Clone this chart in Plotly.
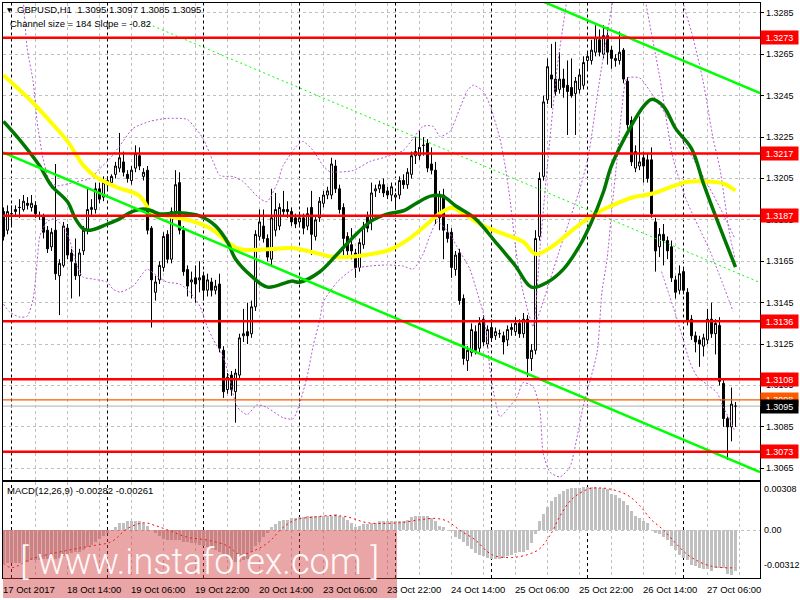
import plotly.graph_objects as go

FONT = "Liberation Sans, Arial, sans-serif"
FS = 9.5

# ---------------- price data (H1 bars, index 0 = 17 Oct 22:00) ----------------
opens = [1.3189,1.3180,1.3188,1.3189,1.3191,1.3190,1.3193,1.3191,1.3192,1.3187,
 1.3187,1.3180,1.3172,1.3180,1.3158,1.3163,1.3181,1.3169,1.3164,1.3158,
 1.3170,1.3180,1.3190,1.3190,1.3200,1.3196,1.3202,1.3203,1.3207,1.3210,
 1.3213,1.3207,1.3204,1.3210,1.3216,1.3206,1.3209,1.3181,1.3150,1.3156,
 1.3162,1.3178,1.3166,1.3189,1.3203,1.3180,1.3161,1.3155,1.3157,1.3156,
 1.3158,1.3151,1.3155,1.3151,1.3154,1.3122,1.3103,1.3110,1.3102,1.3110,
 1.3129,1.3131,1.3130,1.3143,1.3177,1.3182,1.3176,1.3166,1.3180,1.3182,
 1.3190,1.3190,1.3189,1.3186,1.3184,1.3186,1.3182,1.3191,1.3177,1.3186,
 1.3193,1.3197,1.3197,1.3211,1.3200,1.3191,1.3177,1.3173,1.3169,1.3162,
 1.3173,1.3187,1.3185,1.3199,1.3200,1.3202,1.3199,1.3197,1.3196,1.3197,
 1.3204,1.3202,1.3207,1.3216,1.3216,1.3221,1.3222,1.3212,1.3209,1.3186,
 1.3197,1.3179,1.3179,1.3161,1.3169,1.3147,1.3117,1.3121,1.3131,1.3123,
 1.3137,1.3125,1.3133,1.3129,1.3130,1.3129,1.3127,1.3132,1.3131,1.3135,
 1.3130,1.3137,1.3118,1.3122,1.3177,1.3206,1.3243,1.3255,1.3253,1.3248,
 1.3253,1.3250,1.3249,1.3246,1.3248,1.3250,1.3262,1.3262,1.3266,1.3272,
 1.3265,1.3274,1.3267,1.3262,1.3262,1.3267,1.3252,1.3233,1.3210,1.3211,
 1.3215,1.3214,1.3214,1.3184,1.3172,1.3178,1.3175,1.3172,1.3156,1.3151,
 1.3160,1.3150,1.3137,1.3129,1.3127,1.3124,1.3127,1.3137,1.3130,1.3134,
 1.3106,1.3089,1.3085,1.3095]
highs = [1.3191,1.3192,1.3192,1.3192,1.3195,1.3197,1.3196,1.3197,1.3194,1.3189,
 1.3188,1.3182,1.3181,1.3212,1.3166,1.3184,1.3183,1.3171,1.3176,1.3171,
 1.3182,1.3200,1.3195,1.3203,1.3203,1.3206,1.3206,1.3207,1.3213,1.3227,
 1.3218,1.3209,1.3211,1.3221,1.3220,1.3210,1.3211,1.3182,1.3158,1.3165,
 1.3179,1.3180,1.3191,1.3209,1.3208,1.3182,1.3163,1.3160,1.3163,1.3165,
 1.3160,1.3159,1.3157,1.3156,1.3159,1.3124,1.3111,1.3112,1.3113,1.3130,
 1.3142,1.3145,1.3146,1.3180,1.3190,1.3190,1.3178,1.3200,1.3198,1.3193,
 1.3199,1.3194,1.3191,1.3188,1.3189,1.3188,1.3191,1.3199,1.3187,1.3196,
 1.3199,1.3201,1.3215,1.3214,1.3202,1.3193,1.3179,1.3181,1.3171,1.3176,
 1.3184,1.3189,1.3203,1.3202,1.3204,1.3205,1.3201,1.3203,1.3198,1.3206,
 1.3207,1.3210,1.3218,1.3225,1.3228,1.3225,1.3224,1.3220,1.3213,1.3199,
 1.3200,1.3183,1.3181,1.3170,1.3171,1.3149,1.3124,1.3135,1.3134,1.3138,
 1.3139,1.3134,1.3137,1.3133,1.3132,1.3131,1.3134,1.3135,1.3138,1.3137,
 1.3140,1.3139,1.3125,1.3180,1.3208,1.3245,1.3263,1.3270,1.3271,1.3266,
 1.3258,1.3262,1.3263,1.3254,1.3258,1.3264,1.3266,1.3272,1.3279,1.3277,
 1.3279,1.3278,1.3269,1.3265,1.3276,1.3268,1.3254,1.3235,1.3221,1.3235,
 1.3218,1.3217,1.3220,1.3186,1.3181,1.3183,1.3177,1.3175,1.3158,1.3163,
 1.3162,1.3152,1.3139,1.3131,1.3129,1.3130,1.3142,1.3145,1.3137,1.3138,
 1.3108,1.3090,1.3104,1.3097]
lows = [1.3175,1.3178,1.3182,1.3187,1.3186,1.3189,1.3190,1.3189,1.3186,1.3185,
 1.3176,1.3169,1.3170,1.3156,1.3139,1.3162,1.3166,1.3147,1.3156,1.3148,
 1.3168,1.3178,1.3187,1.3188,1.3193,1.3194,1.3200,1.3201,1.3205,1.3208,
 1.3206,1.3203,1.3202,1.3208,1.3209,1.3204,1.3178,1.3133,1.3146,1.3154,
 1.3160,1.3164,1.3164,1.3187,1.3178,1.3158,1.3148,1.3147,1.3145,1.3150,
 1.3146,1.3148,1.3148,1.3149,1.3121,1.3099,1.3101,1.3100,1.3087,1.3108,
 1.3126,1.3125,1.3128,1.3141,1.3175,1.3174,1.3165,1.3163,1.3177,1.3180,
 1.3187,1.3186,1.3182,1.3181,1.3182,1.3178,1.3180,1.3168,1.3175,1.3184,
 1.3191,1.3195,1.3195,1.3198,1.3188,1.3168,1.3168,1.3166,1.3157,1.3160,
 1.3171,1.3179,1.3180,1.3196,1.3198,1.3196,1.3195,1.3194,1.3190,1.3195,
 1.3200,1.3200,1.3205,1.3212,1.3214,1.3216,1.3208,1.3207,1.3183,1.3180,
 1.3166,1.3174,1.3157,1.3158,1.3144,1.3115,1.3112,1.3119,1.3120,1.3121,
 1.3124,1.3123,1.3126,1.3127,1.3128,1.3120,1.3124,1.3129,1.3129,1.3128,
 1.3128,1.3109,1.3112,1.3120,1.3175,1.3204,1.3241,1.3239,1.3245,1.3246,
 1.3244,1.3226,1.3244,1.3226,1.3246,1.3248,1.3257,1.3260,1.3264,1.3264,
 1.3263,1.3260,1.3258,1.3259,1.3260,1.3251,1.3229,1.3211,1.3208,1.3209,
 1.3203,1.3203,1.3186,1.3160,1.3167,1.3163,1.3166,1.3155,1.3147,1.3149,
 1.3149,1.3134,1.3127,1.3121,1.3114,1.3119,1.3125,1.3128,1.3120,1.3105,
 1.3085,1.3069,1.3078,1.3085]
closes = [1.3177,1.3189,1.3188,1.3190,1.3191,1.3194,1.3192,1.3193,1.3188,1.3187,
 1.3179,1.3171,1.3179,1.3159,1.3164,1.3182,1.3168,1.3165,1.3158,1.3169,
 1.3180,1.3190,1.3191,1.3200,1.3195,1.3203,1.3204,1.3206,1.3211,1.3215,
 1.3208,1.3205,1.3209,1.3217,1.3211,1.3208,1.3180,1.3156,1.3155,1.3163,
 1.3177,1.3166,1.3189,1.3202,1.3180,1.3160,1.3153,1.3156,1.3154,1.3157,
 1.3151,1.3156,1.3151,1.3153,1.3123,1.3102,1.3109,1.3103,1.3111,1.3128,
 1.3130,1.3129,1.3143,1.3178,1.3184,1.3176,1.3167,1.3186,1.3190,1.3191,
 1.3189,1.3189,1.3184,1.3183,1.3186,1.3181,1.3188,1.3178,1.3185,1.3194,
 1.3197,1.3199,1.3212,1.3200,1.3190,1.3176,1.3170,1.3170,1.3162,1.3174,
 1.3182,1.3181,1.3198,1.3200,1.3202,1.3198,1.3197,1.3201,1.3197,1.3204,
 1.3202,1.3208,1.3216,1.3218,1.3220,1.3221,1.3210,1.3209,1.3186,1.3197,
 1.3180,1.3176,1.3162,1.3168,1.3146,1.3118,1.3122,1.3132,1.3122,1.3135,
 1.3126,1.3132,1.3128,1.3131,1.3130,1.3126,1.3132,1.3133,1.3135,1.3130,
 1.3137,1.3118,1.3122,1.3176,1.3205,1.3242,1.3259,1.3253,1.3247,1.3253,
 1.3249,1.3247,1.3245,1.3252,1.3255,1.3261,1.3264,1.3267,1.3273,1.3266,
 1.3274,1.3266,1.3263,1.3263,1.3266,1.3253,1.3231,1.3213,1.3218,1.3213,
 1.3211,1.3205,1.3188,1.3170,1.3178,1.3175,1.3170,1.3157,1.3150,1.3159,
 1.3151,1.3136,1.3129,1.3126,1.3125,1.3128,1.3137,1.3130,1.3135,1.3107,
 1.3089,1.3085,1.3096,1.3095]

# MACD histogram (one value per bar) and signal line samples
macd_hist = [-0.0023,-0.0023,-0.0023,-0.0023,-0.0023,-0.0022,-0.0022,-0.0021,-0.0021,-0.0021,
 -0.0020,-0.0020,-0.0020,-0.0020,-0.0019,-0.0018,-0.0017,-0.0016,-0.0015,-0.0015,
 -0.0014,-0.0012,-0.0010,-0.0008,-0.0006,-0.0004,-0.0002,0.0000,0.0002,0.0005,
 0.0005,0.0006,0.0006,0.0006,0.0006,0.0005,0.0003,0.0000,-0.0002,-0.0004,
 -0.0006,-0.0007,-0.0007,-0.0007,-0.0007,-0.0008,-0.0008,-0.0009,-0.0009,-0.0010,
 -0.0011,-0.0012,-0.0013,-0.0014,-0.0015,-0.0017,-0.0019,-0.0021,-0.0022,-0.0022,
 -0.0021,-0.0020,-0.0015,-0.0011,-0.0008,-0.0005,-0.0002,0.0002,0.0004,0.0006,
 0.0007,0.0007,0.0008,0.0008,0.0009,0.0009,0.0010,0.0010,0.0010,0.0010,
 0.0010,0.0010,0.0010,0.0011,0.0010,0.0009,0.0007,0.0005,0.0002,0.0003,
 0.0004,0.0004,0.0005,0.0005,0.0006,0.0006,0.0006,0.0006,0.0006,0.0006,
 0.0006,0.0007,0.0009,0.0010,0.0010,0.0010,0.0010,0.0008,0.0006,0.0003,
 0.0002,0.0000,-0.0001,-0.0005,-0.0006,-0.0008,-0.0011,-0.0013,-0.0016,-0.0017,
 -0.0018,-0.0019,-0.0020,-0.0020,-0.0020,-0.0019,-0.0018,-0.0017,-0.0016,-0.0015,
 -0.0015,-0.0014,-0.0009,-0.0003,0.0006,0.0011,0.0016,0.0020,0.0023,0.0025,
 0.0027,0.0028,0.0029,0.0029,0.0029,0.0030,0.0030,0.0030,0.0030,0.0029,
 0.0029,0.0028,0.0025,0.0024,0.0022,0.0020,0.0017,0.0013,0.0010,0.0008,
 0.0006,0.0005,0.0000,-0.0002,-0.0003,-0.0005,-0.0007,-0.0011,-0.0014,-0.0017,
 -0.0019,-0.0021,-0.0024,-0.0025,-0.0026,-0.0027,-0.0027,-0.0028,-0.0026,-0.0026,
 -0.0026,-0.0030,-0.0031,-0.00282]
macd_signal = [(0,-0.0023),(2,-0.0026),(7,-0.0020),(16,-0.0014),(22,-0.0011),(27,-0.0008),
 (31,0.0001),(35,0.0005),(38,0.0003),(42,-0.0001),(46,-0.0005),(51,-0.0007),(56,-0.0011),
 (59,-0.0017),(62,-0.0015),(66,-0.0009),(70,0.0002),(73,0.0007),(78,0.0009),(82,0.0010),
 (86,0.0009),(91,0.0005),(99,0.0005),(104,0.0007),(108,0.0008),(111,0.0006),(114,0.0000),
 (118,-0.0007),(121,-0.0015),(123,-0.0018),(127,-0.0019),(131,-0.0017),(134,-0.0013),
 (137,-0.0002),(139,0.0009),(142,0.0021),(146,0.0028),(149,0.0029),(152,0.0028),
 (156,0.0024),(159,0.0017),(162,0.0007),(165,0.0000),(168,-0.0009),(171,-0.0017),
 (174,-0.0022),(177,-0.0025),(180,-0.0026),(183,-0.00261)]

# moving averages sampled off the chart (bar index, price)
yellow_ma = [(0,1.32549),(7,1.32423),(11,1.32340),(16,1.32229),(20,1.32112),(23,1.32059),
 (28,1.32010),(34,1.31966),(37,1.31889),(41,1.31869),(47,1.31845),(52,1.31806),(56,1.31743),
 (59,1.31709),(67,1.31709),(72,1.31714),(77,1.31695),(83,1.31670),(92,1.31685),(97,1.31709),
 (102,1.31767),(106,1.31831),(108,1.31865),(112,1.31908),(115,1.31879),(120,1.31821),
 (125,1.31782),(130,1.31743),(133,1.31685),(137,1.31719),(142,1.31797),(147,1.31869),
 (152,1.31918),(157,1.31957),(162,1.31976),(167,1.32010),(171,1.32034),(177,1.32034),
 (180,1.32025),(183,1.31991)]
green_ma = [(0,1.32326),(4,1.32238),(9,1.32112),(12,1.32015),(16,1.31937),(18,1.31855),
 (20,1.31806),(22,1.31801),(26,1.31830),(29,1.31855),(32,1.31889),(35,1.31903),(37,1.31894),
 (39,1.31879),(44,1.31884),(49,1.31869),(53,1.31821),(56,1.31743),(58,1.31661),(62,1.31578),
 (66,1.31525),(72,1.31554),(74,1.31549),(79,1.31598),(83,1.31675),(87,1.31758),(92,1.31845),
 (96,1.31879),(100,1.31894),(103,1.31928),(107,1.31966),(110,1.31962),(113,1.31918),
 (118,1.31855),(123,1.31743),(128,1.31627),(132,1.31525),(136,1.31549),(140,1.31612),
 (144,1.31724),(147,1.31840),(150,1.31986),(152,1.32112),(157,1.32306),(160,1.32398),
 (162,1.32432),(165,1.32398),(168,1.32292),(172,1.32194),(175,1.32025),(178,1.31869),
 (183,1.31622)]

# envelope bands (dotted purple), None = break
bb_upper = [(4.0,1.3310),(4.9,1.32923),(5.9,1.32680),(7.4,1.32520),(8.4,1.32326),(9.9,1.32146),
 (11.6,1.32035),(13.4,1.32015),(18.4,1.32035),(21.6,1.32049),(24.1,1.32098),(26.6,1.32146),
 (29.1,1.32209),(32.4,1.32292),(36.6,1.32326),(40.9,1.32340),(45.9,1.32336),(47.4,1.32307),
 (49.9,1.32243),(52.4,1.32132),(54.1,1.32064),(57.4,1.32059),(59.9,1.32035),(61.6,1.32001),
 (64.1,1.31952),(65.9,1.31938),(68.4,1.32025),(69.9,1.32112),(73.4,1.32209),(74.9,1.32229),
 (77.4,1.32185),(79.9,1.32112),(81.6,1.32083),(87.4,1.32088),(91.6,1.32132),(95.9,1.32156),
 (99.9,1.32185),(102.4,1.32243),(104.9,1.32302),(107.4,1.32302),(109.1,1.32253),
 (111.6,1.32277),(114.1,1.32389),(115.9,1.32472),(117.4,1.32501),(119.9,1.32472),
 (121.6,1.32404),(124.1,1.32243),(125.4,1.32112),(126.6,1.31952),(128.4,1.31661),
 (129.9,1.31501),(132.4,1.31336),(134.1,1.31709),(135.9,1.32098),(138.4,1.32583),
 (140.9,1.32923),(141.8,1.3310),None,(168.6,1.3310),(169.6,1.32923),(172.4,1.32729),
 (174.9,1.32520),(177.4,1.32243),(179.1,1.32098),(181.6,1.31773),(182.9,1.31661)]
bb_lower = [(0,1.31443),(1.6,1.31404),(4.1,1.31380),(5.9,1.31384),(7.4,1.31467),(8.4,1.31646),
 (9.1,1.31773),(10.9,1.31841),(12.4,1.31855),(14.9,1.31821),(16.6,1.31748),(18.4,1.31627),
 (19.9,1.31573),(22.4,1.31564),(25.9,1.31549),(27.4,1.31515),(29.1,1.31501),(32.4,1.31530),
 (35.9,1.31612),(38.4,1.31578),(40.9,1.31549),(44.1,1.31540),(46.6,1.31501),(49.1,1.31433),
 (50.9,1.31336),(52.4,1.31273),(54.9,1.31190),(56.6,1.31079),(58.4,1.30947),(60.9,1.30909),
 (63.4,1.30957),(65.9,1.30943),(69.9,1.30894),(72.4,1.30889),(74.1,1.30967),(75.9,1.31093),
 (77.4,1.31239),(79.1,1.31370),(79.9,1.31452),(83.4,1.31549),(87.4,1.31612),(91.6,1.31627),
 (95.9,1.31632),(99.9,1.31627),(102.4,1.31612),(104.9,1.31685),(106.6,1.31773),(108.4,1.31841),
 (111.6,1.31782),(113.4,1.31719),(116.6,1.31612),(118.4,1.31501),(119.9,1.31404),
 (120.9,1.31273),(121.6,1.31127),(122.9,1.30981),(124.1,1.30899),(125.9,1.30933),
 (128.4,1.30996),(129.9,1.31064),(132.4,1.31044),(134.1,1.30933),(134.9,1.30724),
 (136.6,1.30632),(139.1,1.30608),(141.6,1.30656),(143.4,1.30802),(144.9,1.30947),
 (148.4,1.31210),(149.6,1.31501),(150.9,1.31661),(152.1,1.31904),(153.4,1.32146),
 (154.6,1.32389),(155.9,1.32535),(159.1,1.32535),(161.6,1.32472),(168.4,1.32277),
 (173.4,1.32112),(176.6,1.32001),(179.9,1.31879),(182.9,1.31758)]
bb_upper2 = [(132.4,1.31336),(133.4,1.31370),(139.1,1.31709),(144.1,1.32001),(146.1,1.32146),
 (149.1,1.32535),(152.4,1.32923),(153.4,1.3310)]
bb_upper3 = [(159.6,1.3310),(160.4,1.32923),(164.1,1.32535),(167.4,1.32146),(170.9,1.31937),
 (176.6,1.31700),(182.4,1.31408)]
bb_lower2 = [(164.5,1.31600),(168.4,1.31370),(169.9,1.31273),(171.6,1.31162),(173.4,1.31093),
 (175.9,1.31054),(178.4,1.31015),(179.9,1.30947),(181.6,1.30884),(182.9,1.30826)]

# channel (equidistant, size 184 points)
chan_x = [-0.125, 189.125]
chan_lower = [1.32176, 1.30632]
chan_upper = [1.34006, 1.32462]
chan_mid_x = [35, 189.125]
chan_mid = [1.32806, 1.31547]

# horizontal levels
red_levels = [1.3273, 1.3217, 1.3187, 1.3136, 1.3108, 1.3073]
orange_level = 1.3098
last_price = 1.3095
price_ticks = [1.3285, 1.3265, 1.3245, 1.3225, 1.3205, 1.3185, 1.3165, 1.3145, 1.3125, 1.3105, 1.3085, 1.3065]
time_labels = ["17 Oct 2017", "18 Oct 14:00", "19 Oct 06:00", "19 Oct 22:00", "20 Oct 14:00",
               "23 Oct 06:00", "23 Oct 22:00", "24 Oct 14:00", "25 Oct 06:00", "25 Oct 22:00",
               "26 Oct 14:00", "27 Oct 06:00"]
time_label_bars = [0, 16, 32, 48, 64, 80, 96, 112, 128, 144, 160, 176]
day_separator_bars = [2, 26, 50, 74, 98, 122, 146, 170]

# ---------------- layout geometry (pixels) ----------------
W, H = 800, 600
ML, MR, MT, MB = 3, 40, 3, 22
PH = H - MT - MB
PW = W - ML - MR
MAIN_BOTTOM = 479.5
MACD_TOP = 481.5


def py(pix):
    return (H - MB - pix) / PH


def pxp(pix):
    return (pix - ML) / PW


idx = list(range(len(closes)))


def split(pairs):
    xs = [p[0] if p is not None else None for p in pairs]
    ys = [p[1] if p is not None else None for p in pairs]
    return xs, ys


fig = go.Figure()

for band in (bb_upper, bb_lower, bb_upper2, bb_upper3, bb_lower2):
    bx, by = split(band)
    fig.add_trace(go.Scatter(x=bx, y=by, mode="lines", xaxis="x", yaxis="y",
                             line=dict(color="#b45ad2", width=1, dash="2px,2px", shape="spline", smoothing=0.6),
                             connectgaps=False, hoverinfo="skip"))

fig.add_trace(go.Candlestick(x=idx, open=opens, high=highs, low=lows, close=closes,
                             xaxis="x", yaxis="y", whiskerwidth=0,
                             increasing=dict(line=dict(color="black", width=1), fillcolor="white"),
                             decreasing=dict(line=dict(color="black", width=1), fillcolor="black"),
                             hoverinfo="skip"))

yx, yy = split(yellow_ma)
fig.add_trace(go.Scatter(x=yx, y=yy, mode="lines", xaxis="x", yaxis="y",
                         line=dict(color="#ffff00", width=4, shape="spline"), hoverinfo="skip"))
gx, gy = split(green_ma)
fig.add_trace(go.Scatter(x=gx, y=gy, mode="lines", xaxis="x", yaxis="y",
                         line=dict(color="#007800", width=3.5, shape="spline"), hoverinfo="skip"))

fig.add_trace(go.Scatter(x=chan_x, y=chan_lower, mode="lines", xaxis="x", yaxis="y",
                         line=dict(color="#00ff00", width=2.5), hoverinfo="skip"))
fig.add_trace(go.Scatter(x=chan_x, y=chan_upper, mode="lines", xaxis="x", yaxis="y",
                         line=dict(color="#00ff00", width=2.5), hoverinfo="skip"))
fig.add_trace(go.Scatter(x=chan_mid_x, y=chan_mid, mode="lines", xaxis="x", yaxis="y",
                         line=dict(color="#00ff00", width=1, dash="2px,3px"), hoverinfo="skip"))

fig.add_trace(go.Bar(x=idx, y=macd_hist, xaxis="x2", yaxis="y2", width=0.72,
                     marker=dict(color="#c0c0c0", line=dict(width=0)), hoverinfo="skip"))
sx, sy = split(macd_signal)
fig.add_trace(go.Scatter(x=sx, y=sy, mode="lines", xaxis="x2", yaxis="y2",
                         line=dict(color="#ff0000", width=1, dash="2px,3px", shape="spline"),
                         hoverinfo="skip"))

shapes = []
for b in day_separator_bars:
    shapes.append(dict(type="line", xref="x", yref="paper", x0=b, x1=b, y0=py(MAIN_BOTTOM), y1=1,
                       line=dict(color="black", width=1, dash="3px,3px"), layer="below"))
    shapes.append(dict(type="line", xref="x", yref="paper", x0=b, x1=b, y0=0, y1=py(MACD_TOP),
                       line=dict(color="black", width=1, dash="3px,3px"), layer="below"))
for lv in red_levels:
    shapes.append(dict(type="line", xref="paper", yref="y", x0=0, x1=1, y0=lv, y1=lv,
                       line=dict(color="#ff0000", width=2.5), layer="above"))
shapes.append(dict(type="line", xref="paper", yref="y", x0=0, x1=1, y0=orange_level, y1=orange_level,
                   line=dict(color="#ff5a00", width=1.2), layer="above"))
shapes.append(dict(type="line", xref="paper", yref="y", x0=0, x1=1, y0=last_price, y1=last_price,
                   line=dict(color="#c0c0c0", width=1.2), layer="below"))
shapes.append(dict(type="rect", xref="paper", yref="paper", x0=pxp(3), x1=pxp(397),
                   y0=py(598), y1=py(530), fillcolor="rgba(209,61,61,0.46)",
                   line=dict(width=0), layer="above"))

ann = []
for t in price_ticks:
    ann.append(dict(xref="paper", yref="y", x=1, y=t, xanchor="left", yanchor="middle", xshift=4,
                    text=f"{t:.4f}", showarrow=False, font=dict(family=FONT, size=9, color="black")))


def box(p, txt, bg):
    return dict(xref="paper", yref="y", x=1, y=p, xanchor="left", yanchor="middle", xshift=0,
                text=txt, showarrow=False, bgcolor=bg, borderpad=1, width=35, height=11,
                align="center", font=dict(family=FONT, size=9, color="white"))


for lv in red_levels:
    ann.append(box(lv, f"{lv:.4f}", "#ff0000"))
ann.append(box(orange_level, f"{orange_level:.4f}", "#ff5a00"))
ann.append(box(last_price, f"{last_price:.4f}", "black"))
for val, pix in (("0.00308", 489), ("0.00", 530), ("-0.00312", 565)):
    ann.append(dict(xref="paper", yref="paper", x=1, y=py(pix), xanchor="left", yanchor="middle",
                    xshift=2, text=val, showarrow=False, font=dict(family=FONT, size=9, color="black")))
for b, t in zip(time_label_bars, time_labels):
    ann.append(dict(xref="x", yref="paper", x=b, y=py(589), xanchor="left", yanchor="middle",
                    xshift=-3, text=t, showarrow=False, font=dict(family=FONT, size=FS, color="black")))
ann.append(dict(xref="paper", yref="paper", x=pxp(5), y=py(9), xanchor="left", yanchor="middle",
                text="▼", showarrow=False, font=dict(family="DejaVu Sans", size=6, color="black")))
ann.append(dict(xref="paper", yref="paper", x=pxp(15), y=py(10), xanchor="left", yanchor="middle",
                text="GBPUSD,H1  1.3095 1.3097 1.3085 1.3095", showarrow=False,
                font=dict(family=FONT, size=FS, color="black")))
ann.append(dict(xref="paper", yref="paper", x=pxp(8), y=py(24), xanchor="left", yanchor="middle",
                text="Channel size = 184 Slope = -0.82", showarrow=False,
                font=dict(family=FONT, size=FS, color="black")))
ann.append(dict(xref="paper", yref="paper", x=pxp(5), y=py(490), xanchor="left", yanchor="middle",
                text="MACD(12,26,9) -0.00282 -0.00261", showarrow=False,
                font=dict(family=FONT, size=FS, color="black")))
ann.append(dict(xref="paper", yref="paper", x=pxp(199), y=py(562), xanchor="center", yanchor="middle",
                text="[ www.instaforex.com ]", showarrow=False,
                font=dict(family="Roboto, Liberation Sans, sans-serif", size=36, weight=300,
                          color="rgba(255,255,255,0.95)")))

y_top = 1.3273 + (37.7 - MT) / 20700
y_bot = 1.3273 - (MAIN_BOTTOM - 37.7) / 20700

fig.update_layout(
    width=W, height=H, margin=dict(l=ML, r=MR, t=MT, b=MB),
    paper_bgcolor="white", plot_bgcolor="white", showlegend=False, bargap=0,
    shapes=shapes, annotations=ann,
    xaxis=dict(domain=[0, 1], anchor="y", range=[-0.125, 189.125], showticklabels=False,
               showgrid=True, gridcolor="#c0c0c0", griddash="3px,3px", gridwidth=1,
               tick0=0, dtick=8, zeroline=False, showline=True, mirror=True,
               linecolor="black", linewidth=1, rangeslider=dict(visible=False), ticks=""),
    yaxis=dict(domain=[py(MAIN_BOTTOM), 1], anchor="x", range=[y_bot, y_top], showticklabels=False,
               showgrid=True, gridcolor="#c0c0c0", griddash="3px,3px", gridwidth=1,
               tick0=1.3065, dtick=0.002, zeroline=False, showline=True, mirror=True,
               linecolor="black", linewidth=1, ticks="outside", ticklen=3, tickcolor="black",
               side="right"),
    xaxis2=dict(domain=[0, 1], anchor="y2", matches="x", range=[-0.125, 189.125],
                showticklabels=False, showgrid=True, gridcolor="#c0c0c0", griddash="3px,3px",
                tick0=0, dtick=8, zeroline=False, showline=True, mirror=True,
                linecolor="black", linewidth=1, ticks=""),
    yaxis2=dict(domain=[0, py(MACD_TOP)], anchor="x2", range=[-0.00331, 0.003345],
                showticklabels=False, showgrid=True, gridcolor="#c0c0c0", griddash="3px,3px",
                tickvals=[0], zeroline=False, showline=True, mirror=True,
                linecolor="black", linewidth=1, side="right", ticks=""),
)

fig.write_html("out.html", config={"displayModeBar": False, "staticPlot": True},
               post_script="document.body.style.margin='0';document.body.style.padding='0';"
                           "document.documentElement.style.overflow='hidden';")
